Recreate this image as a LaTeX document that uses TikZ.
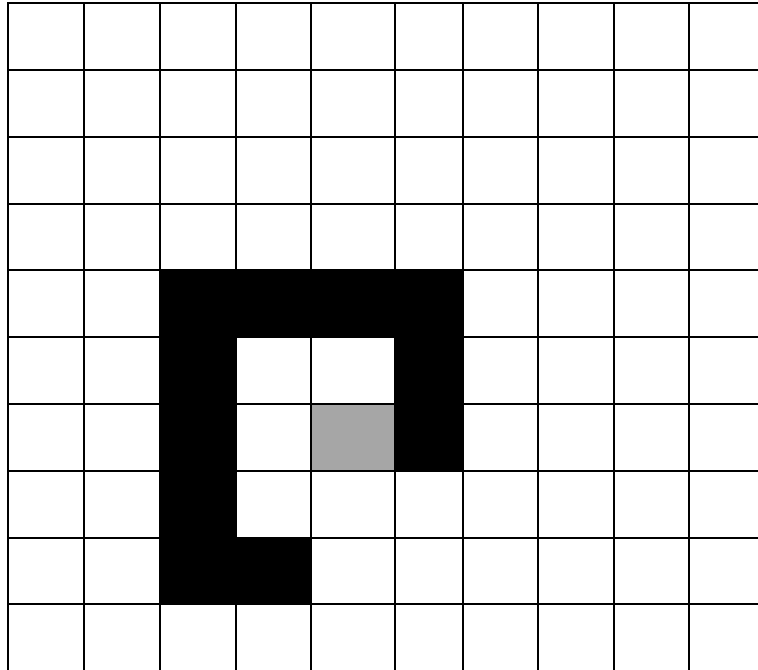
\documentclass[tikz,border=0pt]{standalone}
\begin{document}
\begin{tikzpicture}[x=0.75pt,y=-0.75pt,
    gridline/.style={line width=1.5pt,line cap=rect},
    wall/.style={fill=black},
    goal/.style={fill=black!35}]
\useasboundingbox (0,0) rectangle (758,670);
% grey cell under the grid
\fill[goal] (311,404) rectangle (395,471);
% grid lines
\foreach \x in {8,84,160,236,311,395,463,538,614,689}
    \draw[gridline] (\x,3) -- (\x,672);
\foreach \y in {3,70,137,204,270,337,404,471,538,604}
    \draw[gridline] (8,\y) -- (760,\y);
% walls
\fill[wall] (160,270) rectangle (463,337);
\fill[wall] (160,337) rectangle (236,538);
\fill[wall] (395,337) rectangle (463,471);
\fill[wall] (160,538) rectangle (311,604);
\end{tikzpicture}
\end{document}
